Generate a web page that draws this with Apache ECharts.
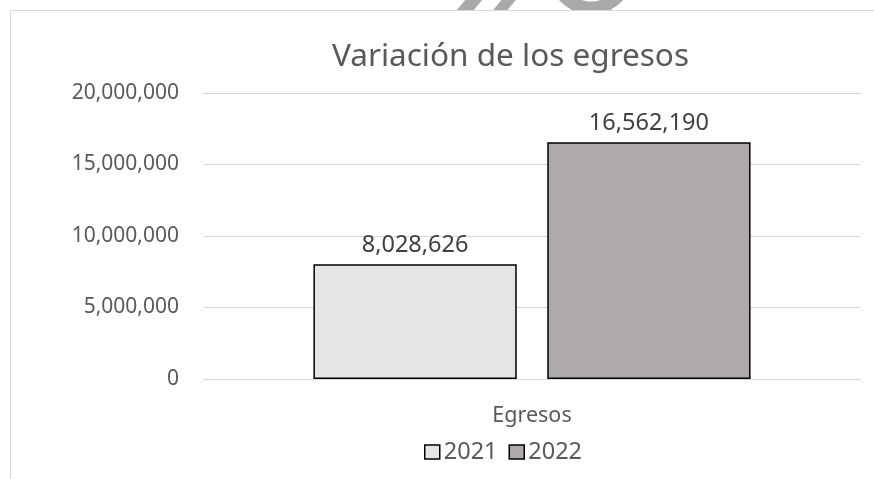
<!DOCTYPE html>
<html><head><meta charset="utf-8">
<script src="https://cdn.jsdelivr.net/npm/echarts@6/dist/echarts.min.js"></script>
<style>html,body{margin:0;padding:0;background:#fff}#c{width:874px;height:479px}</style>
</head><body><div id="c"></div>
<script>
const categories = ['Egresos'];
const seriesNames = ['2021', '2022'];
const values2021 = [8028626];
const values2022 = [16562190];
const yTicks = [0, 5000000, 10000000, 15000000, 20000000];
const titleText = 'Variación de los egresos';

const FONT = '"Noto Sans", sans-serif';
const fmt = v => Number(v).toLocaleString('en-US');
const chart = echarts.init(document.getElementById('c'), null, {renderer: 'canvas'});
chart.setOption({
  animation: false,
  backgroundColor: '#fff',
  graphic: [
    {type: 'arc', shape: {cx: 591, cy: -28, r: 36, startAngle: 0.15, endAngle: Math.PI - 0.15}, style: {fill: 'none', stroke: '#a9a9a9', lineWidth: 13}, z: -3},
    {type: 'line', shape: {x1: 462, y1: 14, x2: 482, y2: -10}, style: {stroke: '#a9a9a9', lineWidth: 13}, z: -3},
    {type: 'line', shape: {x1: 497, y1: 14, x2: 512, y2: -4}, style: {stroke: '#a9a9a9', lineWidth: 11}, z: -3},
    {type: 'rect', shape: {x: 10.5, y: 10.5, width: 900, height: 520}, style: {fill: '#fff', stroke: '#d9d9d9', lineWidth: 1}, z: -2},
    {type: 'text', x: 510.5, y: 57, style: {text: titleText, fontFamily: FONT, fontSize: 31.5, fill: '#595959', textAlign: 'center', textVerticalAlign: 'middle'}, z: 5}
  ],
  legend: {
    top: 439, left: 424, padding: 0, itemWidth: 15, itemHeight: 14, itemGap: 11,
    icon: 'rect',
    itemStyle: {borderColor: '#000', borderWidth: 1.5},
    textStyle: {fontFamily: FONT, fontSize: 23.5, lineHeight: 26, color: '#595959', padding: [0, 0, 0, -1]},
    data: seriesNames
  },
  grid: {left: 203, right: 13, top: 93, bottom: 100, containLabel: false},
  xAxis: {
    type: 'category', data: categories,
    axisLine: {show: true, lineStyle: {color: '#d9d9d9', width: 1}},
    axisTick: {show: false},
    axisLabel: {fontFamily: FONT, fontSize: 21.5, color: '#595959', margin: 26}
  },
  yAxis: {
    type: 'value', min: 0, max: 20000000, interval: 5000000,
    axisLine: {show: false}, axisTick: {show: false},
    splitLine: {lineStyle: {color: '#d9d9d9', width: 1}},
    axisLabel: {fontFamily: FONT, fontSize: 21, color: '#595959', margin: 24,
      formatter: v => yTicks.includes(v) ? fmt(v) : ''}
  },
  series: [
    {name: seriesNames[0], type: 'bar', data: values2021, barWidth: '30.9%', barGap: '15%',
     itemStyle: {color: '#e5e5e5', borderColor: '#000', borderWidth: 1.5},
     label: {show: true, position: 'top', distance: 7, formatter: p => fmt(p.value), fontFamily: FONT, fontSize: 23.5, color: '#404040'}},
    {name: seriesNames[1], type: 'bar', data: values2022, barWidth: '30.9%', barGap: '15%',
     itemStyle: {color: '#aeaaaa', borderColor: '#000', borderWidth: 1.5},
     label: {show: true, position: 'top', distance: 7, formatter: p => fmt(p.value), fontFamily: FONT, fontSize: 23.5, color: '#404040'}}
  ]
});
</script></body></html>
